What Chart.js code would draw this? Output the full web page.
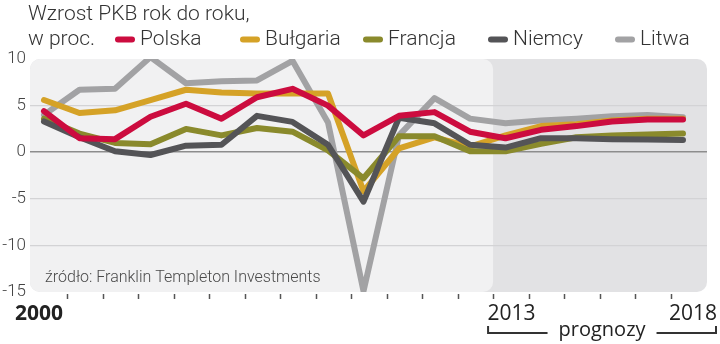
<!DOCTYPE html>
<html lang="pl">
<head>
<meta charset="utf-8">
<title>Wzrost PKB rok do roku</title>
<script src="https://cdn.jsdelivr.net/npm/chart.js@4/dist/chart.umd.min.js"></script>
<style>
  html, body { margin: 0; padding: 0; background: #ffffff; }
  #wrap { width: 720px; height: 344px; position: relative; }
  canvas { display: block; }
</style>
</head>
<body>
<div id="wrap"><canvas id="gdp" width="720" height="344"></canvas></div>
<script>
// Lata i roczna dynamika PKB (%), 2013–2018 to prognozy
const years = [2000, 2001, 2002, 2003, 2004, 2005, 2006, 2007, 2008, 2009,
               2010, 2011, 2012, 2013, 2014, 2015, 2016, 2017, 2018];
const seriesNames = ['Polska', 'Bułgaria', 'Francja', 'Niemcy', 'Litwa'];
const polska   = [4.4, 1.5, 1.4, 3.8, 5.2, 3.6, 5.9, 6.8, 5.0, 1.8, 3.9, 4.3, 2.2, 1.5, 2.4, 2.8, 3.3, 3.5, 3.5];
const bulgaria = [5.6, 4.2, 4.5, 5.6, 6.7, 6.4, 6.3, 6.3, 6.3, -4.2, 0.4, 1.6, 0.6, 1.8, 2.8, 3.0, 3.4, 3.6, 3.6];
const francja  = [3.6, 2.0, 1.0, 0.85, 2.5, 1.8, 2.6, 2.2, 0.2, -2.8, 1.7, 1.7, 0.1, 0.1, 0.9, 1.6, 1.8, 1.9, 2.0];
const niemcy   = [3.3, 1.6, 0.1, -0.3, 0.7, 0.8, 3.9, 3.25, 0.8, -5.3, 3.7, 3.1, 0.8, 0.5, 1.5, 1.5, 1.4, 1.35, 1.3];
const litwa    = [4.0, 6.7, 6.8, 10.2, 7.4, 7.6, 7.7, 9.8, 3.2, -14.9, 1.8, 5.8, 3.6, 3.1, 3.4, 3.6, 3.85, 4.0, 3.75];
const yTickValues = [10, 5, 0, -5, -10, -15];
const xLabelYears = [2000, 2013, 2018];
const xLabelTexts = ['2000', '2013', '2018'];
const forecastStart = 2013;

// Wygląd
const colors = ['#cc0c3f', '#d5a227', '#8a8a2c', '#545457', '#a2a2a4'];
const drawOrder = [0, 3, 2, 1, 4];   // niższa liczba = linia wyżej
const seriesValues = [polska, bulgaria, francja, niemcy, litwa];
const LIGHT_FONT = '"Roboto", "Liberation Sans", sans-serif';
const NUM_FONT = '"Open Sans", "DejaVu Sans", sans-serif';
const TICK_SHIFT = 0.65;           // znaczniki osi X leżą między punktami
const labelShift = [-5, 6, 10];     // przesunięcia podpisów lat (px)
const legendX = [115, 240, 363, 488, 615];

function roundRect(ctx, x, y, w, h, r) {
  ctx.beginPath();
  ctx.moveTo(x + r, y);
  ctx.lineTo(x + w - r, y);
  ctx.arcTo(x + w, y, x + w, y + r, r);
  ctx.lineTo(x + w, y + h - r);
  ctx.arcTo(x + w, y + h, x + w - r, y + h, r);
  ctx.lineTo(x + r, y + h);
  ctx.arcTo(x, y + h, x, y + h - r, r);
  ctx.lineTo(x, y + r);
  ctx.arcTo(x, y, x + r, y, r);
  ctx.closePath();
}

// Tło obszaru wykresu: okres historyczny jaśniejszy, prognozy ciemniejsze
const panelPlugin = {
  id: 'panels',
  beforeDraw(chart) {
    const { ctx, chartArea: a, scales: { x } } = chart;
    const split = x.getPixelForValue(forecastStart - 1 + TICK_SHIFT);
    ctx.save();
    ctx.fillStyle = '#e2e2e4';
    roundRect(ctx, a.left, a.top, a.right - a.left, a.bottom - a.top, 10);
    ctx.fill();
    ctx.fillStyle = '#f1f1f2';
    roundRect(ctx, a.left, a.top, split - a.left, a.bottom - a.top, 10);
    ctx.fill();
    ctx.restore();
  },
  beforeDatasetsDraw(chart) {
    const { ctx, chartArea: a } = chart;
    ctx.save();
    ctx.font = '300 16px ' + LIGHT_FONT;
    ctx.fillStyle = '#4a4a4a';
    ctx.textAlign = 'left';
    ctx.textBaseline = 'alphabetic';
    ctx.fillText('źródło: Franklin Templeton Investments', a.left + 15, a.bottom - 10);
    ctx.restore();
  }
};

// Opisy wokół wykresu: tytuł, legenda, oś lat i klamra prognoz
const decorPlugin = {
  id: 'decor',
  afterDraw(chart) {
    const { ctx, chartArea: a, scales: { x } } = chart;
    ctx.save();

    // tytuł
    ctx.fillStyle = '#333333';
    ctx.textAlign = 'left';
    ctx.textBaseline = 'alphabetic';
    ctx.font = '300 21px ' + LIGHT_FONT;
    ctx.fillText('Wzrost PKB rok do roku,', 28, 20);
    ctx.fillText('w proc.', 28, 45);

    // legenda
    seriesNames.forEach((name, i) => {
      const lx = legendX[i];
      ctx.strokeStyle = colors[i];
      ctx.lineWidth = 6;
      ctx.lineCap = 'round';
      ctx.beginPath();
      ctx.moveTo(lx + 3, 39.5);
      ctx.lineTo(lx + 17, 39.5);
      ctx.stroke();
      ctx.fillStyle = '#333333';
      ctx.fillText(name, lx + 25, 45);
    });

    // znaczniki osi X
    ctx.strokeStyle = '#555555';
    ctx.lineWidth = 1.5;
    ctx.lineCap = 'butt';
    for (let k = 0; k < years.length - 1; k++) {
      const px = Math.round(x.getPixelForValue(years[k] + TICK_SHIFT)) + 0.5;
      ctx.beginPath();
      ctx.moveTo(px, a.bottom + 2);
      ctx.lineTo(px, a.bottom + 7);
      ctx.stroke();
    }

    // podpisy lat
    ctx.textAlign = 'center';
    ctx.fillStyle = '#222222';
    xLabelYears.forEach((yr, i) => {
      ctx.font = (i === 0 ? '700 ' : '400 ') + '21px ' + NUM_FONT;
      ctx.fillText(xLabelTexts[i], x.getPixelForValue(yr) + labelShift[i], a.bottom + 28);
    });

    // klamra "prognozy"
    const bx0 = x.getPixelForValue(forecastStart - 1 + TICK_SHIFT) - 5;
    const bx1 = 716;
    const by = a.bottom + 41;
    const mid = (bx0 + bx1) / 2;
    ctx.font = '400 20px ' + NUM_FONT;
    const tw = ctx.measureText('prognozy').width;
    ctx.fillStyle = '#222222';
    ctx.fillText('prognozy', mid, by + 3);
    ctx.strokeStyle = '#333333';
    ctx.lineWidth = 2;
    ctx.beginPath();
    ctx.moveTo(bx0, by - 7);
    ctx.lineTo(bx0, by);
    ctx.lineTo(mid - tw / 2 - 11, by);
    ctx.moveTo(mid + tw / 2 + 11, by);
    ctx.lineTo(bx1, by);
    ctx.lineTo(bx1, by - 7);
    ctx.stroke();

    ctx.restore();
  }
};

const datasets = seriesNames.map((name, i) => ({
  label: name,
  data: years.map((yr, j) => ({ x: yr, y: seriesValues[i][j] })),
  order: drawOrder[i],
  borderColor: colors[i],
  backgroundColor: colors[i],
  borderWidth: 6,
  borderCapStyle: 'round',
  borderJoinStyle: 'round',
  pointRadius: 0,
  tension: 0,
  fill: false
}));

new Chart(document.getElementById('gdp'), {
  type: 'line',
  data: { datasets },
  plugins: [panelPlugin, decorPlugin],
  options: {
    responsive: false,
    devicePixelRatio: 1,
    animation: false,
    layout: { padding: { top: 59, right: 13, bottom: 52, left: 0 } },
    plugins: { legend: { display: false }, tooltip: { enabled: false }, title: { display: false } },
    scales: {
      x: {
        type: 'linear',
        min: years[0] - 14 / 35.5,
        max: years[years.length - 1] + 24 / 35.5,
        display: false
      },
      y: {
        min: -15,
        max: 10,
        afterBuildTicks(scale) { scale.ticks = yTickValues.map(v => ({ value: v })); },
        afterFit(scale) { scale.width = 30; },
        border: { display: false },
        grid: {
          drawTicks: false,
          color(c) {
            const v = c.tick.value;
            if (v === 0) return '#8d8d8d';
            if (v === 10 || v === -15) return 'rgba(0,0,0,0)';
            return '#d3d3d5';
          },
          lineWidth(c) { return c.tick.value === 0 ? 1.6 : 1.2; }
        },
        ticks: {
          padding: 4,
          color: '#444444',
          font: { family: LIGHT_FONT, size: 17, weight: '300' },
          callback(v) { return String(v); }
        }
      }
    }
  }
});
</script>
</body>
</html>
